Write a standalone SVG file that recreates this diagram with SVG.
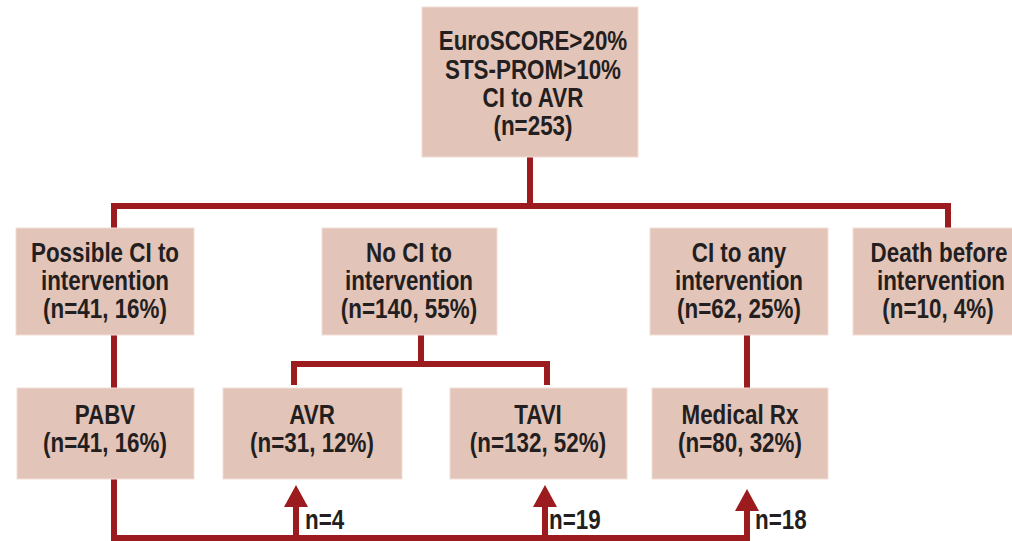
<svg xmlns="http://www.w3.org/2000/svg" width="1012" height="541" viewBox="0 0 1012 541">
<defs>
<style>
.box{fill:#E3C4B9;stroke:#F2DDD5;stroke-width:1}
.t{font-family:"Liberation Sans",Arial,sans-serif;font-weight:bold;font-size:28px;fill:#231F20;text-anchor:middle;transform-box:fill-box;transform-origin:center;transform:scaleX(0.8)}
.lbl{text-anchor:start;transform-origin:left center}
.c{fill:none;stroke:#9B1B1E;stroke-width:6;stroke-linejoin:miter;stroke-linecap:butt}
.ah{fill:#9B1B1E}
</style>
</defs>
<rect width="1012" height="541" fill="#ffffff"/>
<g id="connectors">
<path class="c" d="M530,157 V206"/>
<path class="c" d="M114,228 V206 H948 V228"/>
<path class="c" d="M421,335 V364"/>
<path class="c" d="M294,385 V364 H547 V385"/>
<path class="c" d="M114,335 V388"/>
<path class="c" d="M747,335 V388"/>
<path class="c" d="M114,479 V538 H750"/>
<path class="c" d="M296,538 V506"/>
<path class="c" d="M545,538 V506"/>
<path class="c" d="M747,538 V510"/>
<path class="ah" d="M284,507 L296,485 L308,507 Z"/>
<path class="ah" d="M533,507 L545,485 L557,507 Z"/>
<path class="ah" d="M735,511 L747,489 L759,511 Z"/>
</g>
<g id="n0">
<rect class="box" x="422" y="7" width="216" height="150"/>
<text class="t" x="533" y="50">EuroSCORE&gt;20%</text>
<text class="t" x="533" y="79">STS-PROM&gt;10%</text>
<text class="t" x="533" y="107">CI to AVR</text>
<text class="t" x="533" y="135">(n=253)</text>
</g>
<g id="n1">
<rect class="box" x="16" y="228" width="178" height="107"/>
<text class="t" x="105" y="262">Possible CI to</text>
<text class="t" x="105" y="290">intervention</text>
<text class="t" x="105" y="318">(n=41, 16%)</text>
</g>
<g id="n2">
<rect class="box" x="322" y="228" width="175" height="107"/>
<text class="t" x="409" y="262">No CI to</text>
<text class="t" x="409" y="290">intervention</text>
<text class="t" x="409" y="318">(n=140, 55%)</text>
</g>
<g id="n3">
<rect class="box" x="650" y="228" width="178" height="107"/>
<text class="t" x="739" y="262">CI to any</text>
<text class="t" x="739" y="290">intervention</text>
<text class="t" x="739" y="318">(n=62, 25%)</text>
</g>
<g id="n4">
<rect class="box" x="853" y="228" width="170" height="107"/>
<text class="t" x="939" y="262">Death before</text>
<text class="t" x="941" y="290">intervention</text>
<text class="t" x="938" y="318">(n=10, 4%)</text>
</g>
<g id="n5">
<rect class="box" x="17" y="388" width="177" height="91"/>
<text class="t" x="105" y="424">PABV</text>
<text class="t" x="105" y="452">(n=41, 16%)</text>
</g>
<g id="n6">
<rect class="box" x="223" y="388" width="179" height="91"/>
<text class="t" x="312" y="424">AVR</text>
<text class="t" x="312" y="452">(n=31, 12%)</text>
</g>
<g id="n7">
<rect class="box" x="450" y="388" width="177" height="91"/>
<text class="t" x="538" y="424">TAVI</text>
<text class="t" x="538" y="452">(n=132, 52%)</text>
</g>
<g id="n8">
<rect class="box" x="652" y="388" width="176" height="91"/>
<text class="t" x="740" y="424">Medical Rx</text>
<text class="t" x="740" y="452">(n=80, 32%)</text>
</g>
<g id="labels">
<text class="t lbl" x="305" y="529">n=4</text>
<text class="t lbl" x="549" y="529">n=19</text>
<text class="t lbl" x="755" y="529">n=18</text>
</g>
</svg>
